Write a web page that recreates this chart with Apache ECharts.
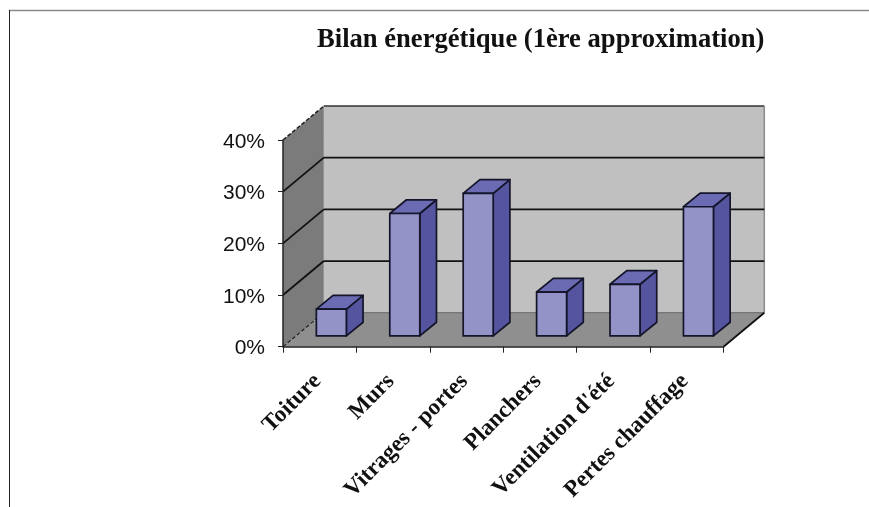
<!DOCTYPE html>
<html>
<head>
<meta charset="utf-8">
<style>html,body{margin:0;padding:0;background:#fff}#c{width:869px;height:507px}</style>
<script src="https://cdn.jsdelivr.net/npm/echarts@6/dist/echarts.min.js"></script>
</head>
<body>
<div id="c"></div>
<script>
const categories = ['Toiture', 'Murs', 'Vitrages - portes', 'Planchers', "Ventilation d'été", 'Pertes chauffage'];
const values = [0.052, 0.237, 0.276, 0.085, 0.10, 0.25];
const gridValues = [0.1, 0.2, 0.3];
const titleText = 'Bilan énergétique (1ère approximation)';

const DEPTH_X = 40.8, DEPTH_Y = 34;      // depth of the 3D box
const BAR_DX = 16.7, BAR_DY = 13.7;      // depth of one bar
const BAR_W = 30;

const chart = echarts.init(document.getElementById('c'), null, {renderer: 'canvas'});

function wall(params, api) {
  const cs = params.coordSys;
  const xl = cs.x, xr = cs.x + cs.width;
  const y0 = api.coord([0, 0])[1], yT = api.coord([0, 0.4])[1];
  const poly = (pts, fill) => ({type: 'polygon', shape: {points: pts}, style: {fill: fill, stroke: null}});
  const line = (a, b, stroke, w, dash) => ({
    type: 'line', shape: {x1: a[0], y1: a[1], x2: b[0], y2: b[1]},
    style: {stroke: stroke, lineWidth: w, lineDash: dash || null, fill: null}
  });
  const back = (x, y) => [x + DEPTH_X, y - DEPTH_Y];
  const children = [
    poly([back(xl, yT), back(xr, yT), back(xr, y0), back(xl, y0)], '#c0c0c0'),
    poly([[xl, yT], back(xl, yT), back(xl, y0), [xl, y0]], '#7b7b7b'),
    poly([[xl, y0], [xr, y0], back(xr, y0), back(xl, y0)], '#8f8f8f'),
    line(back(xl, yT), back(xr, yT), '#333', 1.5),
    line(back(xr, yT), back(xr, y0), '#8a8a8a', 1.5),
    line(back(xl, y0), back(xr, y0), '#666', 1),
    line([xl, yT], back(xl, yT), '#222', 1.5, [4, 2]),
    line([xl, y0], back(xl, y0), '#222', 1.2, [4, 2]),
    line([xr, y0], back(xr, y0), '#111', 1.8)
  ];
  gridValues.forEach(v => {
    const y = api.coord([0, v])[1];
    children.push(line([xl, y], back(xl, y), '#111', 1.8));
    children.push(line(back(xl, y), back(xr, y), '#111', 1.8));
  });
  return {type: 'group', children: children};
}

function bar(params, api) {
  const c = api.coord([api.value(0), api.value(1)]);
  const b = api.coord([api.value(0), 0]);
  const ox = (DEPTH_X - BAR_DX) / 2 - 0.4, oy = (DEPTH_Y - BAR_DY) / 2 + 0.6;
  const l = b[0] + ox - BAR_W / 2, r = l + BAR_W;
  const bot = b[1] - oy, top = c[1] - oy;
  const st = fill => ({fill: fill, stroke: '#14142a', lineWidth: 1.7, lineJoin: 'round'});
  return {
    type: 'group',
    children: [
      {type: 'polygon', shape: {points: [[r, bot], [r + BAR_DX, bot - BAR_DY], [r + BAR_DX, top - BAR_DY], [r, top]]}, style: st('#55559f')},
      {type: 'polygon', shape: {points: [[l, top], [r, top], [r + BAR_DX, top - BAR_DY], [l + BAR_DX, top - BAR_DY]]}, style: st('#6b6bb4')},
      {type: 'rect', shape: {x: l, y: top, width: BAR_W, height: bot - top}, style: st('#9393c8')}
    ]
  };
}

chart.setOption({
  animation: false,
  backgroundColor: '#fff',
  title: {
    text: titleText, left: 312, top: 22,
    textStyle: {fontFamily: 'Liberation Serif', fontWeight: 'bold', fontSize: 26.6, color: '#111'}
  },
  grid: {left: 283, right: 145.5, top: 140, bottom: 160.3, containLabel: false},
  xAxis: {
    type: 'category', data: categories, z: 5,
    axisLine: {lineStyle: {color: '#222', width: 1.5}},
    axisTick: {show: true, length: 6, lineStyle: {color: '#222', width: 1}},
    splitLine: {show: false},
    axisLabel: {
      rotate: 45, interval: 0, margin: 29, color: '#111',
      fontFamily: 'Liberation Serif', fontWeight: 'bold', fontSize: 23.2,
      formatter: v => '{t|' + v + '}',
      rich: {t: {padding: [0, 3, 0, 0], fontFamily: 'Liberation Serif', fontWeight: 'bold', fontSize: 23.2, color: '#111'}}
    }
  },
  yAxis: {
    type: 'value', min: 0, max: 0.4, interval: 0.1, z: 5,
    axisLine: {show: true, lineStyle: {color: '#222', width: 1.5}},
    axisTick: {show: true, length: 5, lineStyle: {color: '#222', width: 1}},
    splitLine: {show: false},
    axisLabel: {
      margin: 18, color: '#111', fontFamily: 'Liberation Sans', fontSize: 21,
      formatter: v => '{t|' + Math.round(v * 100) + '%}',
      rich: {t: {padding: [4, 0, 0, 0], fontFamily: 'Liberation Sans', fontSize: 21, color: '#111'}}
    }
  },
  graphic: [
    {type: 'line', silent: true, shape: {x1: 9, y1: 10.5, x2: 869, y2: 10.5}, style: {stroke: '#8a8a8a', lineWidth: 1.5}},
    {type: 'line', silent: true, shape: {x1: 9.5, y1: 10, x2: 9.5, y2: 507}, style: {stroke: '#222', lineWidth: 1}}
  ],
  series: [
    {type: 'custom', z: 1, clip: false, silent: true, renderItem: wall, data: [[0, 0]], encode: {x: 0, y: 1}},
    {type: 'custom', z: 2, clip: false, silent: true, renderItem: bar,
     data: values.map((v, i) => [i, v]), encode: {x: 0, y: 1}}
  ]
});
</script>
</body>
</html>
